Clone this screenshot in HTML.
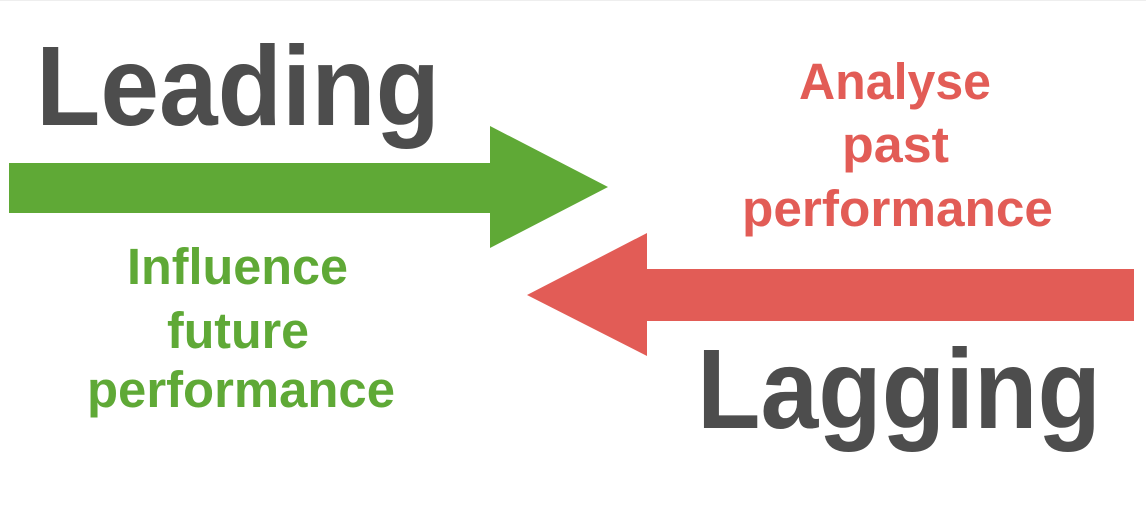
<!DOCTYPE html>
<html><head><meta charset="utf-8"><style>
html,body{margin:0;padding:0;background:#fff;}
svg{display:block;}
text{font-family:"Liberation Sans",Arial,sans-serif;font-weight:bold;}
</style></head><body>
<svg width="1146" height="528" viewBox="0 0 1146 528" xmlns="http://www.w3.org/2000/svg">
<rect x="0" y="0" width="1146" height="528" fill="#fff"/>
<line x1="0" y1="0.5" x2="1146" y2="0.5" stroke="#eee" stroke-width="1"/>
<polygon points="9,163 490,163 490,126 608,187 490,248 490,213 9,213" fill="#5fa936"/>
<polygon points="1134,269 647,269 647,233 527,295 647,356 647,321 1134,321" fill="#e25c56"/>
<text x="36" y="125" font-size="113" fill="#4d4d4d" textLength="404" lengthAdjust="spacingAndGlyphs">Leading</text>
<text x="697" y="428" font-size="113" fill="#4d4d4d" textLength="404" lengthAdjust="spacingAndGlyphs">Lagging</text>
<g fill="#5fa936" font-size="51">
<text x="127" y="284" textLength="221" lengthAdjust="spacingAndGlyphs">Influence</text>
<text x="167" y="348" textLength="142" lengthAdjust="spacingAndGlyphs">future</text>
<text x="87" y="407" textLength="308" lengthAdjust="spacingAndGlyphs">performance</text>
</g>
<g fill="#e25c56" font-size="51">
<text x="799" y="99" textLength="192" lengthAdjust="spacingAndGlyphs">Analyse</text>
<text x="842" y="162" textLength="107" lengthAdjust="spacingAndGlyphs">past</text>
<text x="742" y="226" textLength="311" lengthAdjust="spacingAndGlyphs">performance</text>
</g>
</svg>
</body></html>
